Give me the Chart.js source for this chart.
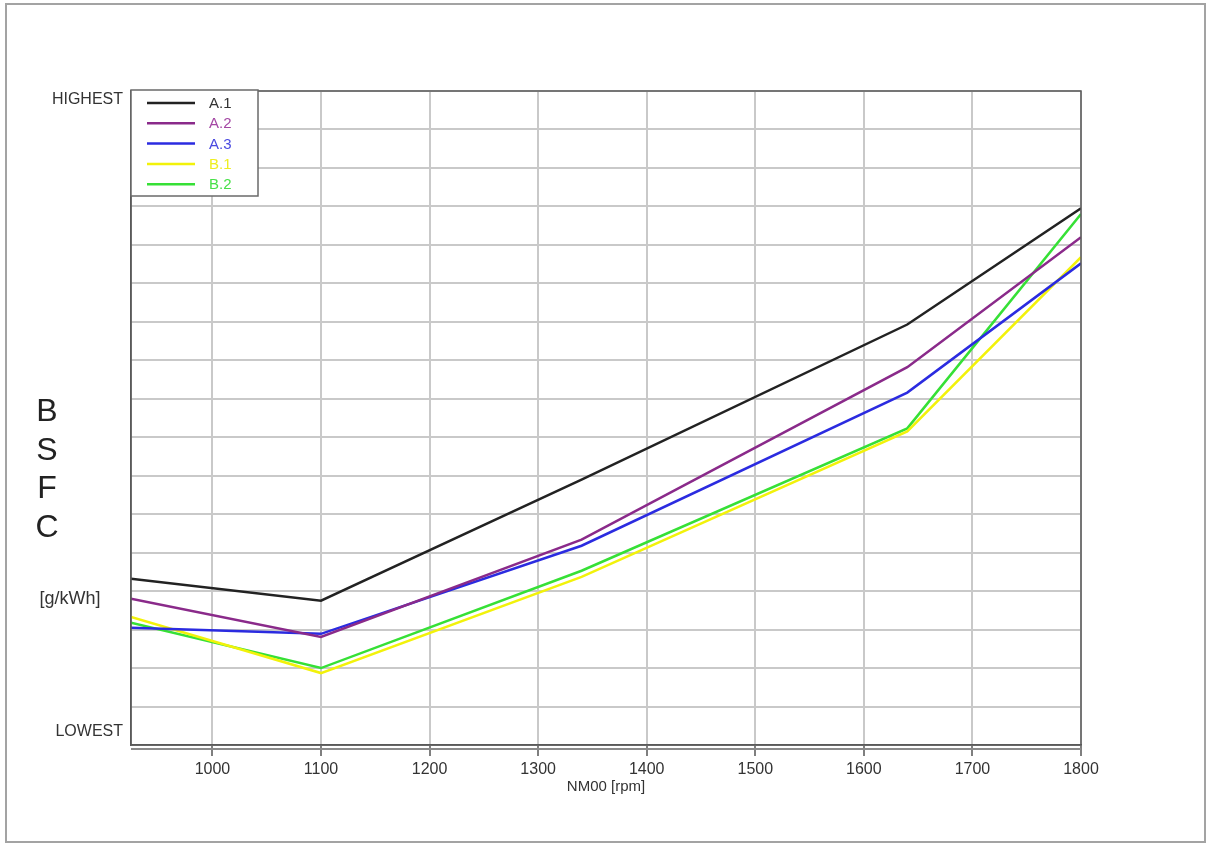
<!DOCTYPE html>
<html>
<head>
<meta charset="utf-8">
<script src="https://cdn.jsdelivr.net/npm/chart.js@4.4.1/dist/chart.umd.min.js"></script>
<style>
  html, body { margin: 0; padding: 0; background: #fff; }
  #wrap { position: relative; width: 1206px; height: 843px; }
  #frame { position: absolute; left: 5px; top: 3px; width: 1197px; height: 836px; border: 2px solid #a3a3a3; pointer-events: none; }
  canvas { position: absolute; left: 0; top: 0; }
</style>
</head>
<body>
<div id="wrap">
  <canvas id="c" width="1206" height="843"></canvas>
  <div id="frame"></div>
</div>
<script>
// ---- data ----
const rpm = [925, 1100, 1340, 1640, 1800];
const seriesNames = ['A.1', 'A.2', 'A.3', 'B.1', 'B.2'];
const A1 = [4.32, 3.75, 6.90, 10.93, 13.95];
const A2 = [3.80, 2.81, 5.34, 9.82, 13.20];
const A3 = [3.05, 2.89, 5.18, 9.16, 12.52];
const B1 = [3.33, 1.87, 4.37, 8.15, 12.68];
const B2 = [3.18, 2.00, 4.53, 8.23, 13.80];
const xTicks = [1000, 1100, 1200, 1300, 1400, 1500, 1600, 1700, 1800];
const yGrid = [0, 1, 2, 3, 4, 5, 6, 7, 8, 9, 10, 11, 12, 13, 14, 15, 16, 17];
const yLabelValues = [0.36, 16.77];
const yLabelTexts = ['LOWEST', 'HIGHEST'];
const yTitleLetters = ['B', 'S', 'F', 'C'];
const yUnit = '[g/kWh]';
const xTitle = 'NM00 [rpm]';

const lineColors = ['#222222', '#8a2a8a', '#2b2be0', '#f2f20a', '#36e036'];
const textColors = ['#333333', '#a448a4', '#4a4ae0', '#eeee20', '#48e048'];

const allSeries = [A1, A2, A3, B1, B2];
const datasets = allSeries.map((vals, i) => ({
  label: seriesNames[i],
  data: vals.map((v, j) => ({ x: rpm[j], y: v })),
  borderColor: lineColors[i],
  backgroundColor: lineColors[i],
  borderWidth: 2.5,
  pointRadius: 0,
  tension: 0,
  fill: false
}));
const FONT = 'Liberation Sans, Arial, sans-serif';

const decor = {
  id: 'decor',
  afterDraw(chart) {
    const ctx = chart.ctx;
    const a = chart.chartArea;
    ctx.save();
    // plot border
    ctx.strokeStyle = '#5a5a5a';
    ctx.lineWidth = 1.5;
    ctx.strokeRect(a.left, a.top, a.right - a.left, a.bottom - a.top);
    // second axis line below plot
    ctx.strokeStyle = '#8a8a8a';
    ctx.lineWidth = 2;
    ctx.beginPath();
    ctx.moveTo(a.left, a.bottom + 4);
    ctx.lineTo(a.right, a.bottom + 4);
    ctx.stroke();

    // legend
    const lx = a.left, ly = a.top - 1, lw = 127, lh = 106;
    ctx.fillStyle = '#ffffff';
    ctx.fillRect(lx, ly, lw, lh);
    ctx.strokeStyle = '#6a6a6a';
    ctx.lineWidth = 1.5;
    ctx.strokeRect(lx, ly, lw, lh);
    ctx.font = '15px ' + FONT;
    ctx.textBaseline = 'middle';
    ctx.textAlign = 'left';
    chart.data.datasets.forEach((ds, i) => {
      const y = ly + 13 + i * 20.3;
      ctx.strokeStyle = ds.borderColor;
      ctx.lineWidth = 2.5;
      ctx.beginPath();
      ctx.moveTo(lx + 16, y);
      ctx.lineTo(lx + 64, y);
      ctx.stroke();
      ctx.fillStyle = textColors[i];
      ctx.fillText(ds.label, lx + 78, y + 1);
    });

    // y title: stacked letters and unit
    ctx.fillStyle = '#222222';
    ctx.textAlign = 'center';
    ctx.font = '32px ' + FONT;
    yTitleLetters.forEach((ch, i) => {
      ctx.fillText(ch, 47, 412 + i * 38.7);
    });
    ctx.fillStyle = '#333333';
    ctx.font = '18px ' + FONT;
    ctx.fillText(yUnit, 70, 599);
    ctx.restore();
  }
};

new Chart(document.getElementById('c'), {
  type: 'line',
  data: { datasets },
  options: {
    responsive: false,
    animation: false,
    layout: { padding: { left: 0, top: 91, right: 125, bottom: 38 } },
    plugins: { legend: { display: false }, tooltip: { enabled: false } },
    scales: {
      x: {
        type: 'linear',
        min: 925,
        max: 1800,
        afterBuildTicks: (s) => { s.ticks = xTicks.map(v => ({ value: v })); },
        afterFit: (s) => { s.height = 60; },
        grid: { color: '#c9c9c9', lineWidth: 2, tickLength: 11, tickColor: '#555555', tickWidth: 1.5 },
        border: { color: '#5a5a5a', width: 1.5 },
        ticks: { color: '#333333', font: { family: FONT, size: 16 }, padding: 4, maxRotation: 0, autoSkip: false,
                 callback: (v) => String(v) },
        title: { display: true, text: xTitle, color: '#333333', font: { family: FONT, size: 15 }, padding: { top: 0, bottom: 9 } }
      },
      y: {
        type: 'linear',
        min: 0,
        max: 17,
        afterBuildTicks: (s) => { s.ticks = yGrid.concat(yLabelValues).map(v => ({ value: v })); },
        afterFit: (s) => { s.width = 131; },
        grid: {
          drawTicks: false,
          lineWidth: 2,
          color: (c) => (c.tick && yGrid.includes(c.tick.value)) ? '#c9c9c9' : 'rgba(0,0,0,0)'
        },
        border: { color: '#5a5a5a', width: 1.5 },
        ticks: {
          color: '#333333',
          font: { family: FONT, size: 16 },
          padding: 8,
          autoSkip: false,
          callback: (v) => { const k = yLabelValues.indexOf(v); return k >= 0 ? yLabelTexts[k] : ''; }
        }
      }
    }
  },
  plugins: [decor]
});
</script>
</body>
</html>
